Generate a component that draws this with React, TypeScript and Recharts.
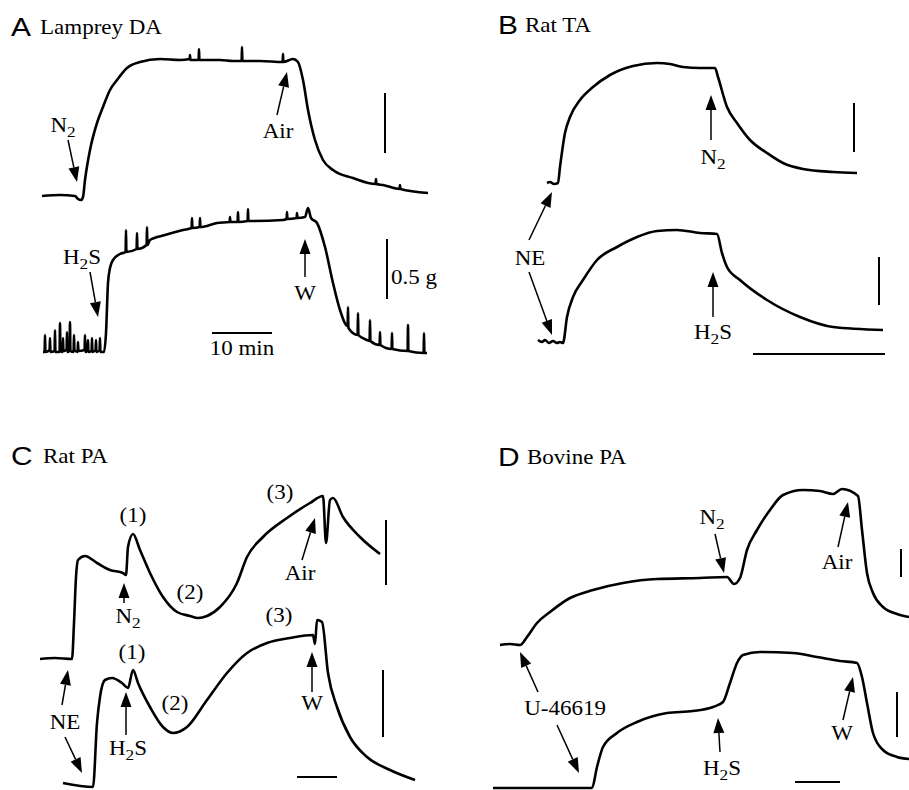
import { LineChart, Line, XAxis, YAxis, ReferenceLine, ReferenceDot } from 'recharts'

// Each panel uses its own units: t = time (arb.), v = tension (arb.), origin at panel bottom-left.

// ---- A Lamprey DA ----
const lampreyN2 = [[42,194],[60,195],[75,194],[78,191],[81,190],[83,193],[85,210],[90,240],[97,267],[103,283],[110,300],[117,310],[127,322],[140,328],[160,331],[180,330],[189.6,331],[190,335],[190.4,330],[198.6,330],[199,341],[199.4,330],[220,330],[233,329],[241.6,329],[242,343],[242.4,329],[260,329],[282.6,328],[283,336],[283.4,328],[293,331],[298,328],[303,310],[308,280],[315,250],[323,230],[333,220],[353,212],[375.6,206],[376,211],[376.4,206],[383,205],[399.6,201],[400,205],[400.4,201],[428,197]]
const lampreyH2S = [[43,38],[44.6,38],[45,55],[45.4,38],[49.6,40],[50,52],[50.4,38],[54.6,39],[55,60],[55.4,38],[59.6,38],[60,67],[60.4,40],[62.6,38],[63,52],[63.4,39],[66.6,40],[67,58],[67.4,38],[69.6,40],[70,68],[70.4,39],[73.6,38],[74,55],[74.4,40],[77.6,38],[78,48],[78.4,39],[84.6,40],[85,55],[85.4,38],[87.6,40],[88,50],[88.4,38],[91.6,39],[92,52],[92.4,38],[95.6,40],[96,50],[96.4,38],[99.6,40],[100,52],[100.4,38],[104,38],[106,57],[108,107],[110,122],[113,130],[120,136],[125.6,138],[126,160],[126.4,138],[136.6,141],[137,157],[137.4,141],[146.6,145],[147,163],[147.4,145],[150,150],[165,155],[183,160],[191.6,162],[192,172],[192.4,162],[199.6,163],[200,172],[200.4,163],[217,167],[229.6,168],[230,173],[230.4,168],[237.6,168],[238,178],[238.4,168],[247.6,169],[248,181],[248.4,169],[283,170],[286.6,171],[287,178],[287.4,171],[296.6,172],[297,177],[297.4,172],[305,173],[308,182],[311,172],[317,167],[325,143],[333,107],[340,80],[347.6,64],[348,83],[348.4,62],[357.6,55],[358,77],[358.4,55],[367,50],[369.6,49],[370,70],[370.4,49],[379.6,45],[380,58],[380.4,45],[391.6,41],[392,57],[392.4,41],[407.6,39],[408,65],[408.4,39],[423.6,37],[424,57],[424.4,37],[427,37]]
const lampreyArrows = [[68,250,77,208],[277,275,287,318],[90,118,98,73],[305,113,305,151]]
const lampreyBars = [[385,297,385,237],[387,151,387,91],[212,57,272,57]]
const lampreyLabels: [number, number, string, string?][] = [[63,265,'N_2'],[278,259,'Air'],[82,133,'H_2S'],[305,97,'W'],[391,113,'0.5 g','start'],[242,42,'10 min']]

// ---- B Rat TA ----
const ratTaN2 = [[97,207],[100,208],[104,206],[108,207],[110,223],[115,257],[120,273],[130,290],[143,303],[160,315],[183,324],[207,327],[220,326],[233,323],[250,322],[265,322],[268,313],[277,283],[287,267],[300,250],[317,237],[333,227],[353,221],[383,218],[407,217]]
const ratTaH2S = [[88,50],[92,48],[95,50],[99,47],[103,49],[107,47],[110,48],[113,47],[117,73],[123,93],[133,110],[147,130],[167,143],[187,153],[207,159],[227,160],[250,157],[267,156],[272,137],[277,123],[290,110],[317,90],[350,73],[383,63],[433,60]]
const ratTaArrows = [[261,250,261,295],[263,73,263,118],[79,150,102,198],[79,118,102,55]]
const ratTaBars = [[404,287,404,238],[429,133,429,85],[303,36,435,36]]
const ratTaLabels: [number, number, string, string?][] = [[263,233,'N_2'],[263,58,'H_2S'],[80,132,'NE']]

// ---- C Rat PA ----
const ratPaN2 = [[40,131],[55,132],[72,131],[74,167],[76,213],[78,230],[85,234],[97,227],[110,220],[123,217],[126,215],[128,243],[133,256],[140,240],[150,217],[163,193],[177,178],[190,174],[198,172],[207,174],[220,183],[237,207],[247,233],[263,253],[287,272],[310,287],[323,294],[326,247],[330,290],[333,292],[343,273],[360,253],[380,236]]
const ratPaH2S = [[63,7],[93,3],[97,67],[100,93],[105,110],[112,112],[122,107],[128,102],[133,120],[138,107],[150,83],[163,63],[173,57],[187,63],[207,90],[227,117],[247,137],[267,147],[290,152],[313,155],[315,146],[317,170],[322,168],[328,117],[337,83],[350,53],[367,33],[390,20],[415,10]]
const ratPaArrows = [[302,230,315,272],[124,187,124,207],[312,98,312,138],[126,55,126,98],[62,85,68,120],[65,53,82,17]]
const ratPaBars = [[386,270,386,205],[383,120,383,53],[297,13,337,13]]
const ratPaLabels: [number, number, string, string?][] = [[133,275,'(1)'],[190,198,'(2)'],[280,298,'(3)'],[300,217,'Air'],[128,174,'N_2'],[132,138,'(1)'],[175,87,'(2)'],[279,175,'(3)'],[312,87,'W'],[128,42,'H_2S'],[65,68,'NE']]

// ---- D Bovine PA ----
const bovineN2 = [[50,145],[60,146],[70,145],[77,153],[87,167],[100,178],[120,192],[143,200],[173,207],[207,211],[250,212],[277,213],[284,206],[290,212],[297,240],[307,260],[320,280],[333,295],[353,300],[370,299],[383,296],[392,301],[408,294],[412,260],[417,217],[423,197],[433,183],[447,176],[459,173]]
const bovineH2S = [[43,2],[142,2],[147,23],[153,43],[167,57],[187,68],[217,77],[243,79],[263,83],[273,88],[280,107],[287,127],[293,135],[310,138],[343,137],[367,133],[390,129],[407,127],[412,113],[417,87],[423,57],[433,40],[447,33],[459,31]]
const bovineArrows = [[265,256,274,217],[388,243,398,288],[88,98,70,138],[107,65,129,17],[270,38,268,72],[393,70,403,113]]
const bovineBars = [[451,241,451,213],[447,98,447,53],[345,8,390,8]]
const bovineLabels: [number, number, string, string?][] = [[262,273,'N_2'],[387,228,'Air'],[115,82,'U-46619'],[272,22,'H_2S'],[392,57,'W']]

const SERIF = 'Liberation Serif, DejaVu Serif, serif'
const SANS = 'Liberation Sans, Arial, sans-serif'
const SX = 1.15

const toPts = (arr: number[][]) => arr.map(([t, v]) => ({ t, v }))

function ArrowShape(p: any) {
  const { x1, y1, x2, y2 } = p
  const dx = x2 - x1
  const dy = y2 - y1
  const len = Math.hypot(dx, dy) || 1
  const ux = dx / len
  const uy = dy / len
  const hl = 15
  const hw = 5.5
  const bx = x2 - ux * hl
  const by = y2 - uy * hl
  return (
    <g>
      <line x1={x1} y1={y1} x2={bx} y2={by} stroke="#000" strokeWidth={1.5} />
      <polygon points={`${x2},${y2} ${bx - uy * hw},${by + ux * hw} ${bx + uy * hw},${by - ux * hw}`} fill="#000" />
    </g>
  )
}

function TextMark({ cx, cy, text, anchor = 'middle', size = 20, family = SERIF }: any) {
  const parts = String(text).split('_')
  const sub = size * 0.75
  const shift = size * 0.25
  return (
    <g transform={`translate(${cx},${cy}) scale(${SX},1)`}>
      <text x={0} y={size * 0.33} textAnchor={anchor} fill="#000" fontSize={size}
        style={{ fontFamily: family, fontSize: size }}>
        {parts[0]}
        {parts.slice(1).map((p, i) => [
          <tspan key={'s' + i} dy={shift} style={{ fontSize: sub }}>{p[0]}</tspan>,
          p.length > 1 ? <tspan key={'r' + i} dy={-shift}>{p.slice(1)}</tspan> : null,
        ])}
      </text>
    </g>
  )
}

interface PanelProps {
  left: number
  top: number
  width: number
  height: number
  letter: string
  name: string
  titleX: number
  nameX: number
  titleV: number
  traces: number[][][]
  arrows: number[][]
  bars: number[][]
  labels: [number, number, string, string?][]
}

function Panel({ left, top, width, height, letter, name, titleX, nameX, titleV, traces, arrows, bars, labels }: PanelProps) {
  return (
    <div style={{ position: 'absolute', left, top }}>
      <LineChart width={width} height={height} margin={{ top: 0, right: 0, bottom: 0, left: 0 }}>
        <XAxis type="number" dataKey="t" domain={[0, width]} hide allowDataOverflow />
        <YAxis type="number" dataKey="v" domain={[0, height]} hide allowDataOverflow />
        {traces.map((d, i) => (
          <Line key={i} data={toPts(d)} dataKey="v" type="monotoneX" stroke="#000" strokeWidth={2.6}
            strokeLinejoin="round" dot={false} activeDot={false} isAnimationActive={false} />
        ))}
        {bars.map(([x1, v1, x2, v2], i) => (
          <ReferenceLine key={'b' + i} segment={[{ x: x1, y: v1 }, { x: x2, y: v2 }]} stroke="#000" strokeWidth={2} ifOverflow="visible" />
        ))}
        {arrows.map(([x1, v1, x2, v2], i) => (
          <ReferenceLine key={'a' + i} segment={[{ x: x1, y: v1 }, { x: x2, y: v2 }]} ifOverflow="visible" shape={ArrowShape} />
        ))}
        {labels.map(([x, v, text, anchor], i) => (
          <ReferenceDot key={'l' + i} x={x} y={v} r={0} ifOverflow="visible"
            shape={(p: any) => <TextMark cx={p.cx} cy={p.cy} text={text} anchor={anchor || 'middle'} />} />
        ))}
        <ReferenceDot x={titleX} y={titleV} r={0} ifOverflow="visible"
          shape={(p: any) => <TextMark cx={p.cx} cy={p.cy} text={letter} anchor="start" size={26} family={SANS} />} />
        <ReferenceDot x={nameX} y={titleV} r={0} ifOverflow="visible"
          shape={(p: any) => <TextMark cx={p.cx} cy={p.cy} text={name} anchor="start" size={20} />} />
      </LineChart>
    </div>
  )
}

export default function App() {
  return (
    <div style={{ position: 'absolute', left: 0, top: 0, width: 909, height: 790, background: '#fff' }}>
      <Panel left={0} top={0} width={450} height={390} letter="A" name="Lamprey DA" titleX={11} nameX={40} titleV={363}
        traces={[lampreyN2, lampreyH2S]} arrows={lampreyArrows} bars={lampreyBars} labels={lampreyLabels} />
      <Panel left={450} top={0} width={459} height={390} letter="B" name="Rat TA" titleX={48} nameX={75} titleV={365}
        traces={[ratTaN2, ratTaH2S]} arrows={ratTaArrows} bars={ratTaBars} labels={ratTaLabels} />
      <Panel left={0} top={390} width={450} height={400} letter="C" name="Rat PA" titleX={11} nameX={43} titleV={334}
        traces={[ratPaN2, ratPaH2S]} arrows={ratPaArrows} bars={ratPaBars} labels={ratPaLabels} />
      <Panel left={450} top={390} width={459} height={400} letter="D" name="Bovine PA" titleX={48} nameX={77} titleV={333}
        traces={[bovineN2, bovineH2S]} arrows={bovineArrows} bars={bovineBars} labels={bovineLabels} />
    </div>
  )
}
